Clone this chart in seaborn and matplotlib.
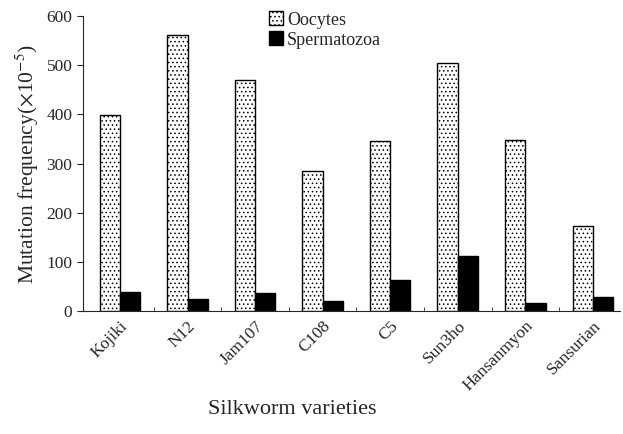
import matplotlib
matplotlib.use("Agg")
import matplotlib.pyplot as plt
import matplotlib.patches as mpatches
import pandas as pd
import seaborn as sns

# ---------------------------------------------------------------------------
# Data
# ---------------------------------------------------------------------------
varieties   = ["Kojiki", "N12", "Jam107", "C108", "C5",
               "Sun3ho", "Hansanmyon", "Sansurian"]
oocytes     = [398, 562, 471, 284, 347, 505, 349, 173]
spermatozoa = [38, 24, 37, 20, 64, 113, 16, 28]
series      = ["Oocytes", "Spermatozoa"]

df = pd.DataFrame({
    "variety": varieties * 2,
    "cell": [series[0]] * len(varieties) + [series[1]] * len(varieties),
    "freq": oocytes + spermatozoa,
})

# ---------------------------------------------------------------------------
# Style
# ---------------------------------------------------------------------------
sns.set_style("ticks")
plt.rcParams["font.family"] = ["Liberation Serif", "DejaVu Serif"]
plt.rcParams["hatch.linewidth"] = 0.6
plt.rcParams["mathtext.fontset"] = "stix"

fig = plt.figure(figsize=(6.23, 4.34), dpi=100)
ax = fig.add_axes([0.133, 0.283, 0.862, 0.68])

sns.barplot(data=df, x="variety", y="freq", hue="cell", order=varieties,
            hue_order=series, palette=["white", "black"], width=0.6,
            saturation=1, legend=False, ax=ax)

# stippled oocyte bars, solid spermatozoa bars
for p in ax.containers[0].patches:
    p.set_facecolor("white")
    p.set_edgecolor("black")
    p.set_hatch("....")
    p.set_linewidth(1.0)
for p in ax.containers[1].patches:
    p.set_facecolor("black")
    p.set_edgecolor("black")

ax.set_ylim(0, 600)
ax.set_xlim(-0.55, 7.4)
ax.set_yticks(range(0, 601, 100))
ax.tick_params(axis="y", direction="out", length=4, labelsize=12.5)
ax.tick_params(axis="x", length=0, labelsize=12.5, pad=5)
ax.set_xticks(range(len(varieties)))
ax.set_xticklabels(varieties, rotation=45, ha="right", rotation_mode="anchor")
ax.set_xticks([i + 0.5 for i in range(len(varieties) - 1)], minor=True)
ax.tick_params(axis="x", which="minor", direction="in", length=3)

for s in ["top", "right"]:
    ax.spines[s].set_visible(False)

ax.set_ylabel(r"Mutation frequency($\times$10$^{-5}$)", fontsize=15.5, labelpad=4)
ax.set_xlabel("Silkworm varieties", fontsize=16, labelpad=2)
ax.xaxis.set_label_coords(0.39, -0.3)

handles = [
    mpatches.Patch(facecolor="white", edgecolor="black", hatch="....",
                   label=series[0]),
    mpatches.Patch(facecolor="black", edgecolor="black", label=series[1]),
]
ax.legend(handles=handles, loc="upper left", bbox_to_anchor=(0.333, 1.04),
          frameon=False, fontsize=13, handlelength=0.8, handleheight=0.8,
          handletextpad=0.2, labelspacing=0.15, borderaxespad=0)

fig.savefig("out.png", dpi=100)
